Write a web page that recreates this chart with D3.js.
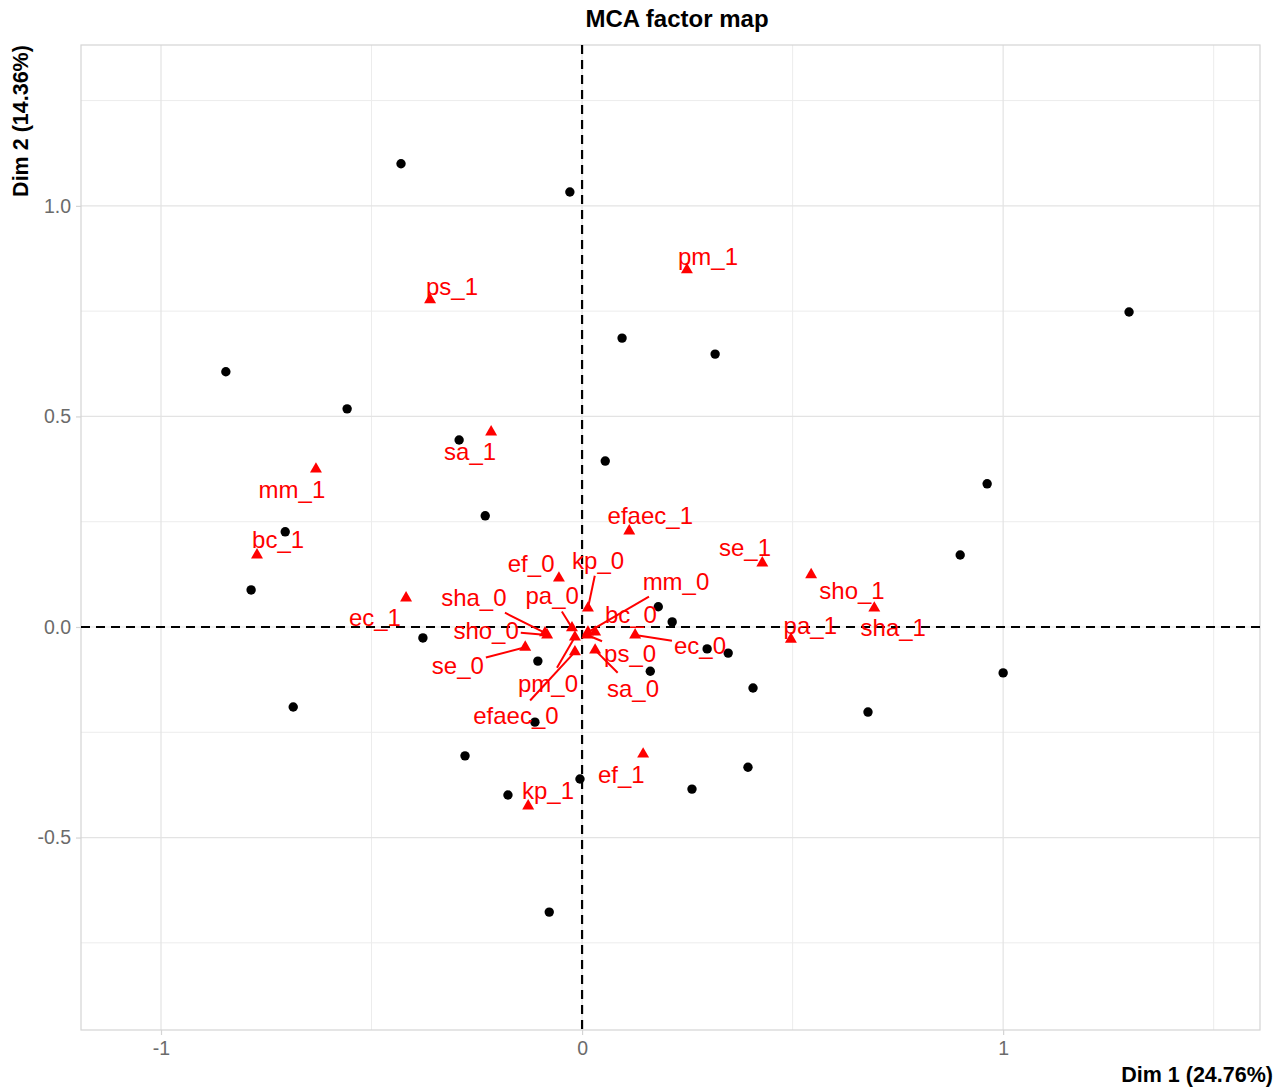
<!DOCTYPE html>
<html>
<head>
<meta charset="utf-8">
<script src="https://cdn.jsdelivr.net/npm/d3@7"></script>
<style>
  html, body { margin: 0; padding: 0; background: #fff; }
  svg { display: block; font-family: "Liberation Sans", Arial, Helvetica, sans-serif; }
</style>
</head>
<body>
<svg id="chart" width="1288" height="1089"></svg>
<script>
// ---- Data ----
const indX = [-0.430, -0.029, 1.299, -0.846, 0.095, 0.316, -0.558, -0.292, 0.055, 0.962,
              -0.230, -0.705, 0.898, -0.786, 0.181, 0.214, -0.378, 0.297, 0.347, -0.105,
              0.162, 1.000, -0.686, 0.406, 0.679, -0.112, -0.278, 0.394, -0.005, -0.176,
              0.261, -0.078];
const indY = [1.100, 1.033, 0.748, 0.606, 0.686, 0.648, 0.518, 0.444, 0.394, 0.340,
              0.264, 0.226, 0.171, 0.088, 0.048, 0.012, -0.026, -0.052, -0.062, -0.081,
              -0.105, -0.109, -0.190, -0.145, -0.202, -0.226, -0.306, -0.333, -0.361, -0.399,
              -0.385, -0.677];

const catNames = ["pm_1", "ps_1", "sa_1", "mm_1", "bc_1", "ec_1", "efaec_1", "se_1", "sho_1",
                  "sha_1", "pa_1", "ef_1", "kp_1", "ef_0", "kp_0", "mm_0", "sha_0", "pa_0",
                  "bc_0", "sho_0", "ec_0", "se_0", "ps_0", "pm_0", "sa_0", "efaec_0"];
const catX = [0.249, -0.361, -0.216, -0.632, -0.772, -0.418, 0.112, 0.428, 0.544,
              0.694, 0.496, 0.145, -0.128, -0.055, 0.014, 0.014, -0.088, -0.024,
              0.031, -0.083, 0.126, -0.135, 0.012, -0.017, 0.031, -0.017];
const catY = [0.848, 0.777, 0.463, 0.375, 0.171, 0.069, 0.228, 0.152, 0.124,
              0.045, -0.029, -0.302, -0.425, 0.116, 0.045, -0.012, -0.014, -0.002,
              -0.012, -0.019, -0.019, -0.048, -0.019, -0.024, -0.055, -0.059];
// repelled label positions (data units)
const labX = [0.299, -0.309, -0.266, -0.689, -0.722, -0.492, 0.162, 0.387, 0.641,
              0.739, 0.542, 0.093, -0.081, -0.121, 0.038, 0.223, -0.257, -0.071,
              0.116, -0.228, 0.280, -0.295, 0.114, -0.081, 0.121, -0.157];
const labY = [0.881, 0.810, 0.418, 0.328, 0.207, 0.024, 0.266, 0.190, 0.088,
              -0.002, 0.005, -0.349, -0.387, 0.152, 0.159, 0.109, 0.071, 0.074,
              0.029, -0.007, -0.043, -0.090, -0.062, -0.133, -0.145, -0.211];

const xMajor = [-1, 0, 1];
const xMinor = [-0.5, 0.5, 1.5];
const yMajor = [-0.5, 0, 0.5, 1];
const yMinor = [-0.75, -0.25, 0.25, 0.75, 1.25];
const xTickLabels = ["-1", "0", "1"];
const yTickLabels = ["-0.5", "0.0", "0.5", "1.0"];

const titleText = "MCA factor map";
const xTitle = "Dim 1 (24.76%)";
const yTitle = "Dim 2 (14.36%)";

// ---- Layout ----
const panel = { left: 81, right: 1260, top: 45, bottom: 1030 };
const svg = d3.select("#chart");

const x = d3.scaleLinear().domain([-1.19, 1.61]).range([panel.left, panel.right]);
const y = d3.scaleLinear().domain([-0.957, 1.382]).range([panel.bottom, panel.top]);

const g = svg.append("g");

// grid
g.selectAll(".xminor").data(xMinor).join("line")
  .attr("x1", d => x(d)).attr("x2", d => x(d))
  .attr("y1", panel.top).attr("y2", panel.bottom)
  .attr("stroke", "#ececec").attr("stroke-width", 1);
g.selectAll(".yminor").data(yMinor).join("line")
  .attr("y1", d => y(d)).attr("y2", d => y(d))
  .attr("x1", panel.left).attr("x2", panel.right)
  .attr("stroke", "#ececec").attr("stroke-width", 1);
g.selectAll(".xmajor").data(xMajor).join("line")
  .attr("x1", d => x(d)).attr("x2", d => x(d))
  .attr("y1", panel.top).attr("y2", panel.bottom)
  .attr("stroke", "#e3e3e3").attr("stroke-width", 1.2);
g.selectAll(".ymajor").data(yMajor).join("line")
  .attr("y1", d => y(d)).attr("y2", d => y(d))
  .attr("x1", panel.left).attr("x2", panel.right)
  .attr("stroke", "#e3e3e3").attr("stroke-width", 1.2);

// panel border
g.append("rect")
  .attr("x", panel.left).attr("y", panel.top)
  .attr("width", panel.right - panel.left).attr("height", panel.bottom - panel.top)
  .attr("fill", "none").attr("stroke", "#d4d4d4").attr("stroke-width", 1.2);

// axes
const xAxis = d3.axisBottom(x).tickValues(xMajor)
  .tickFormat((d, i) => xTickLabels[i]).tickSize(5).tickPadding(6);
const yAxis = d3.axisLeft(y).tickValues(yMajor)
  .tickFormat((d, i) => yTickLabels[i]).tickSize(5).tickPadding(5);

const gx = svg.append("g").attr("transform", `translate(0,${panel.bottom})`).call(xAxis);
const gy = svg.append("g").attr("transform", `translate(${panel.left},0)`).call(yAxis);
[gx, gy].forEach(a => {
  a.select(".domain").remove();
  a.selectAll(".tick line").attr("stroke", "#d4d4d4").attr("stroke-width", 1.2);
  a.selectAll(".tick text").attr("fill", "#6b6b6b")
    .style("font-size", "19.5px").style("font-family", "'Liberation Sans', Arial, sans-serif");
});

// reference dashed lines
g.append("line")
  .attr("x1", panel.left).attr("x2", panel.right)
  .attr("y1", y(0)).attr("y2", y(0))
  .attr("stroke", "#000").attr("stroke-width", 2.2).attr("stroke-dasharray", "9,6");
g.append("line")
  .attr("x1", x(0)).attr("x2", x(0))
  .attr("y1", panel.top).attr("y2", panel.bottom)
  .attr("stroke", "#000").attr("stroke-width", 2.2).attr("stroke-dasharray", "9,6");

// individuals
g.selectAll(".ind").data(indX.map((v, i) => ({ x: v, y: indY[i] }))).join("circle")
  .attr("cx", d => x(d.x)).attr("cy", d => y(d.y)).attr("r", 4.7).attr("fill", "#000");

// categories
const cats = catNames.map((n, i) => ({ name: n, x: catX[i], y: catY[i], lx: labX[i], ly: labY[i] }));
const red = "#FF0000";

const segG = g.append("g");
const triG = g.append("g");
const labG = g.append("g");

triG.selectAll("path").data(cats).join("path")
  .attr("d", d3.symbol().type(d3.symbolTriangle).size(62))
  .attr("transform", d => `translate(${x(d.x)},${y(d.y)})`)
  .attr("fill", red);

const labels = labG.selectAll("text").data(cats).join("text")
  .attr("x", d => x(d.lx)).attr("y", d => y(d.ly)).attr("dy", "0.36em")
  .attr("text-anchor", "middle")
  .attr("fill", red)
  .style("font-size", "24px")
  .text(d => d.name);

// segments from label box edge to point (ggrepel style)
labels.each(function(d) {
  const bb = this.getBBox();
  const pad = 2;
  const bx0 = bb.x - pad, bx1 = bb.x + bb.width + pad;
  const by0 = bb.y - pad, by1 = bb.y + bb.height + pad;
  const cx = x(d.lx), cy = y(d.ly);
  const px = x(d.x), py = y(d.y);
  const dx = px - cx, dy = py - cy;
  let t = Infinity;
  if (dx > 0) t = Math.min(t, (bx1 - cx) / dx);
  if (dx < 0) t = Math.min(t, (bx0 - cx) / dx);
  if (dy > 0) t = Math.min(t, (by1 - cy) / dy);
  if (dy < 0) t = Math.min(t, (by0 - cy) / dy);
  if (!(t < 1)) return;
  const sx = cx + dx * t, sy = cy + dy * t;
  const len = Math.hypot(px - sx, py - sy);
  if (len < 12) return;
  segG.append("line")
    .attr("x1", sx).attr("y1", sy).attr("x2", px).attr("y2", py)
    .attr("stroke", red).attr("stroke-width", 2);
});

// titles
svg.append("text")
  .attr("x", 677).attr("y", 27)
  .attr("text-anchor", "middle")
  .style("font-size", "24px").style("font-weight", "bold")
  .attr("fill", "#000")
  .text(titleText);

svg.append("text")
  .attr("x", panel.right + 13).attr("y", 1082)
  .attr("text-anchor", "end")
  .style("font-size", "21.5px").style("font-weight", "bold")
  .attr("fill", "#000")
  .text(xTitle);

svg.append("text")
  .attr("transform", `translate(28,${(45 + 197) / 2}) rotate(-90)`)
  .attr("text-anchor", "middle")
  .style("font-size", "21.5px").style("font-weight", "bold")
  .attr("fill", "#000")
  .text(yTitle);
</script>
</body>
</html>
